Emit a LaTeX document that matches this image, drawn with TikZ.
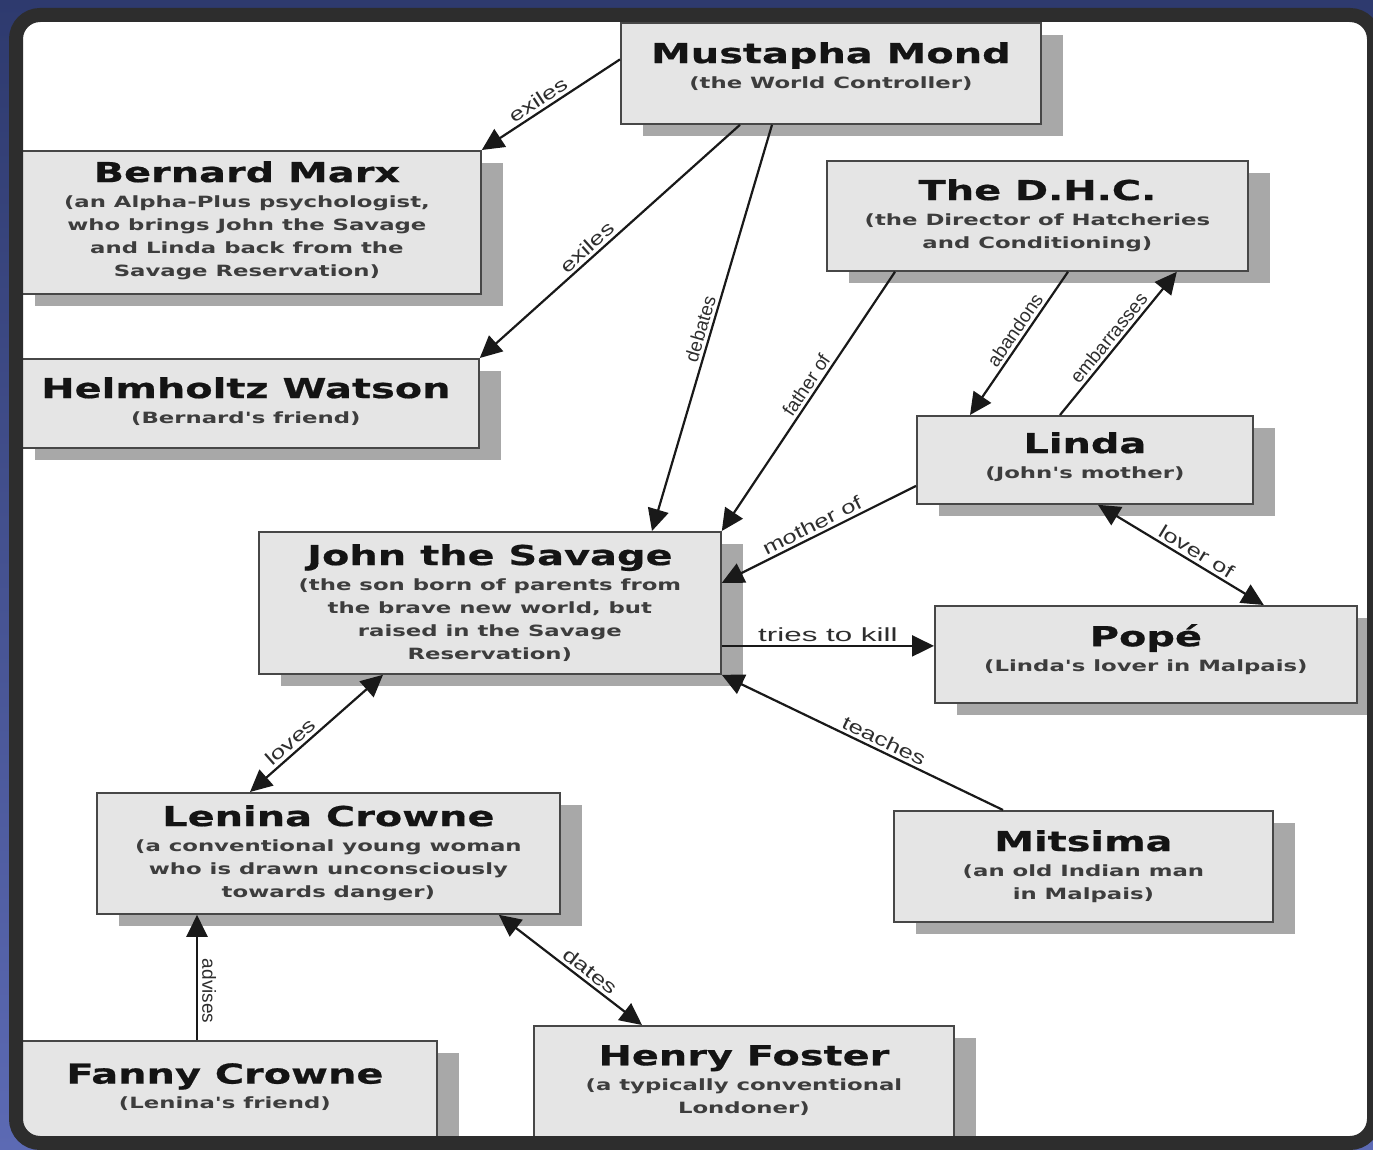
\documentclass[tikz,border=0pt]{standalone}
\usepackage{fontspec}
\usepackage{xcolor}
\usepackage{tikz}
\usetikzlibrary{arrows.meta,positioning,shadows}

\newfontfamily\chfont[FakeStretch=1.47]{DejaVu Sans}
\newfontfamily\ttlfont[FakeStretch=1.45,FakeBold=0.6]{DejaVu Sans}
\newfontfamily\labfont{Liberation Sans}
\newfontfamily\labwfont[FakeStretch=1.35]{Liberation Sans}
\newfontfamily\labhfont[FakeStretch=1.65]{Liberation Sans}

\definecolor{navy}{RGB}{46,58,110}
\definecolor{bluish}{RGB}{92,106,180}
\definecolor{boxgray}{RGB}{229,229,229}
\definecolor{shadegray}{RGB}{168,168,168}
\definecolor{rim}{RGB}{45,45,45}

\newcommand{\who}[1]{{\ttlfont\bfseries\fontsize{27.5}{23}\selectfont\color{black!92}#1}\\[2pt]}

\begin{document}
\begin{tikzpicture}[x=1pt, y=-1pt, >={Triangle[length=22pt,width=21pt]},
  person/.style={draw=black!72, line width=1.8pt, fill=boxgray, anchor=north west, inner sep=0pt,
    drop shadow={shadow xshift=22pt, shadow yshift=-12pt, fill=shadegray, opacity=1}},
  about/.style={align=center, inner sep=0pt, text=black!76, font=\chfont\bfseries\fontsize{15.5}{23}\selectfont},
  rel/.style={line width=2.2pt, draw=black!90, ->},
  both/.style={line width=2.2pt, draw=black!90, <->},
  tag/.style={sloped, above, inner sep=3pt, text=black!82, font=\labfont\fontsize{19}{19}\selectfont},
  wtag/.style={tag, font=\labwfont\fontsize{19}{19}\selectfont},
  htag/.style={above, inner sep=3pt, text=black!82, font=\labhfont\fontsize{19}{19}\selectfont},
  vtag/.style={rotate=-90, anchor=south, inner sep=4pt, text=black!82, font=\labfont\fontsize{19}{19}\selectfont}]

\useasboundingbox (0,0) rectangle (1373,1150);
\fill[top color=navy, bottom color=bluish] (0,0) rectangle (1373,1150);
\fill[white, rounded corners=24pt] (16,15) rectangle (1374,1143);

\begin{scope}
\clip[rounded corners=24pt] (16,15) rectangle (1374,1143);

% characters
\node[person, minimum width=420pt, minimum height=101pt] (mond) at (620,22) {};
\node[person, minimum width=468pt, minimum height=143pt] (bernard) at (12,150) {};
\node[person, minimum width=466pt, minimum height=89pt] (helmholtz) at (12,358) {};
\node[person, minimum width=421pt, minimum height=110pt] (dhc) at (826,160) {};
\node[person, minimum width=336pt, minimum height=88pt] (linda) at (916,415) {};
\node[person, minimum width=462pt, minimum height=142pt] (john) at (258,531) {};
\node[person, minimum width=422pt, minimum height=97pt] (pope) at (934,605) {};
\node[person, minimum width=463pt, minimum height=121pt] (lenina) at (96,792) {};
\node[person, minimum width=379pt, minimum height=111pt] (mitsima) at (893,810) {};
\node[person, minimum width=424pt, minimum height=130pt] (fanny) at (12,1040) {};
\node[person, minimum width=420pt, minimum height=140pt] (henry) at (533,1025) {};

\node[about, below=20pt of mond.north] (mond-txt) {\who{Mustapha Mond}(the World Controller)};
\node[about, below=11pt of bernard.north] (bernard-txt) {\who{Bernard Marx}(an Alpha-Plus psychologist,\\who brings John the Savage\\and Linda back from the\\Savage Reservation)};
\node[about, below=19pt of helmholtz.north] (helmholtz-txt) {\who{Helmholtz Watson}(Bernard's friend)};
\node[about, below=19pt of dhc.north] (dhc-txt) {\who{The D.H.C.}(the Director of Hatcheries\\and Conditioning)};
\node[about, below=17pt of linda.north] (linda-txt) {\who{Linda}(John's mother)};
\node[about, below=13pt of john.north] (john-txt) {\who{John the Savage}(the son born of parents from\\the brave new world, but\\raised in the Savage\\Reservation)};
\node[about, below=19pt of pope.north] (pope-txt) {\who{Popé}(Linda's lover in Malpais)};
\node[about, below=13pt of lenina.north] (lenina-txt) {\who{Lenina Crowne}(a conventional young woman\\who is drawn unconsciously\\towards danger)};
\node[about, below=20pt of mitsima.north] (mitsima-txt) {\who{Mitsima}(an old Indian man\\in Malpais)};
\node[about, below=23pt of fanny.north] (fanny-txt) {\who{Fanny Crowne}(Lenina's friend)};
\node[about, below=20pt of henry.north] (henry-txt) {\who{Henry Foster}(a typically conventional\\Londoner)};

% relations
\draw[rel] ([yshift=14pt]mond.west) -- (bernard.north east) node[wtag, pos=0.55] (t-exiles1) {exiles};
\draw[rel] ([xshift=120pt]mond.south west) -- (helmholtz.north east) node[wtag, pos=0.56] (t-exiles2) {exiles};
\draw[rel] ([xshift=152pt]mond.south west) -- ([xshift=394pt]john.north west) node[tag, pos=0.51] (t-debates) {debates};
\draw[rel] ([xshift=69pt]dhc.south west) -- (john.north east) node[tag, pos=0.46] (t-father) {father of};
\draw[rel] ([xshift=242pt]dhc.south west) -- ([xshift=54pt]linda.north west) node[tag, pos=0.45] (t-abandons) {abandons};
\draw[rel] ([xshift=144pt]linda.north west) -- ([xshift=-72pt]dhc.south east) node[tag, pos=0.49] (t-embarr) {embarrasses};
\draw[rel] ([yshift=-26pt]linda.west) -- ([yshift=20pt]john.east) node[wtag, pos=0.51] (t-mother) {mother of};
\draw[both] ([xshift=182pt]linda.south west) -- ([xshift=-94pt]pope.north east) node[wtag, pos=0.56] (t-lover) {lover of};
\draw[rel] ([yshift=-43pt]john.east) -- ([yshift=8.5pt]pope.west) node[htag, midway] (t-kill) {tries to kill};
\draw[rel] ([xshift=110pt]mitsima.north west) -- (john.south east) node[wtag, pos=0.44] (t-teaches) {teaches};
\draw[both] ([xshift=125pt]john.south west) -- ([xshift=154pt]lenina.north west) node[wtag, pos=0.64] (t-loves) {loves};
\draw[rel] ([xshift=185pt]fanny.north west) -- ([xshift=101pt]lenina.south west) node[vtag, pos=0.39] (t-advises) {advises};
\draw[both] ([xshift=-62pt]lenina.south east) -- ([xshift=109pt]henry.north west) node[wtag, pos=0.59] (t-dates) {dates};
\end{scope}

\draw[rim, line width=14pt, rounded corners=24pt] (16,15) rectangle (1374,1143);

\end{tikzpicture}
\end{document}
